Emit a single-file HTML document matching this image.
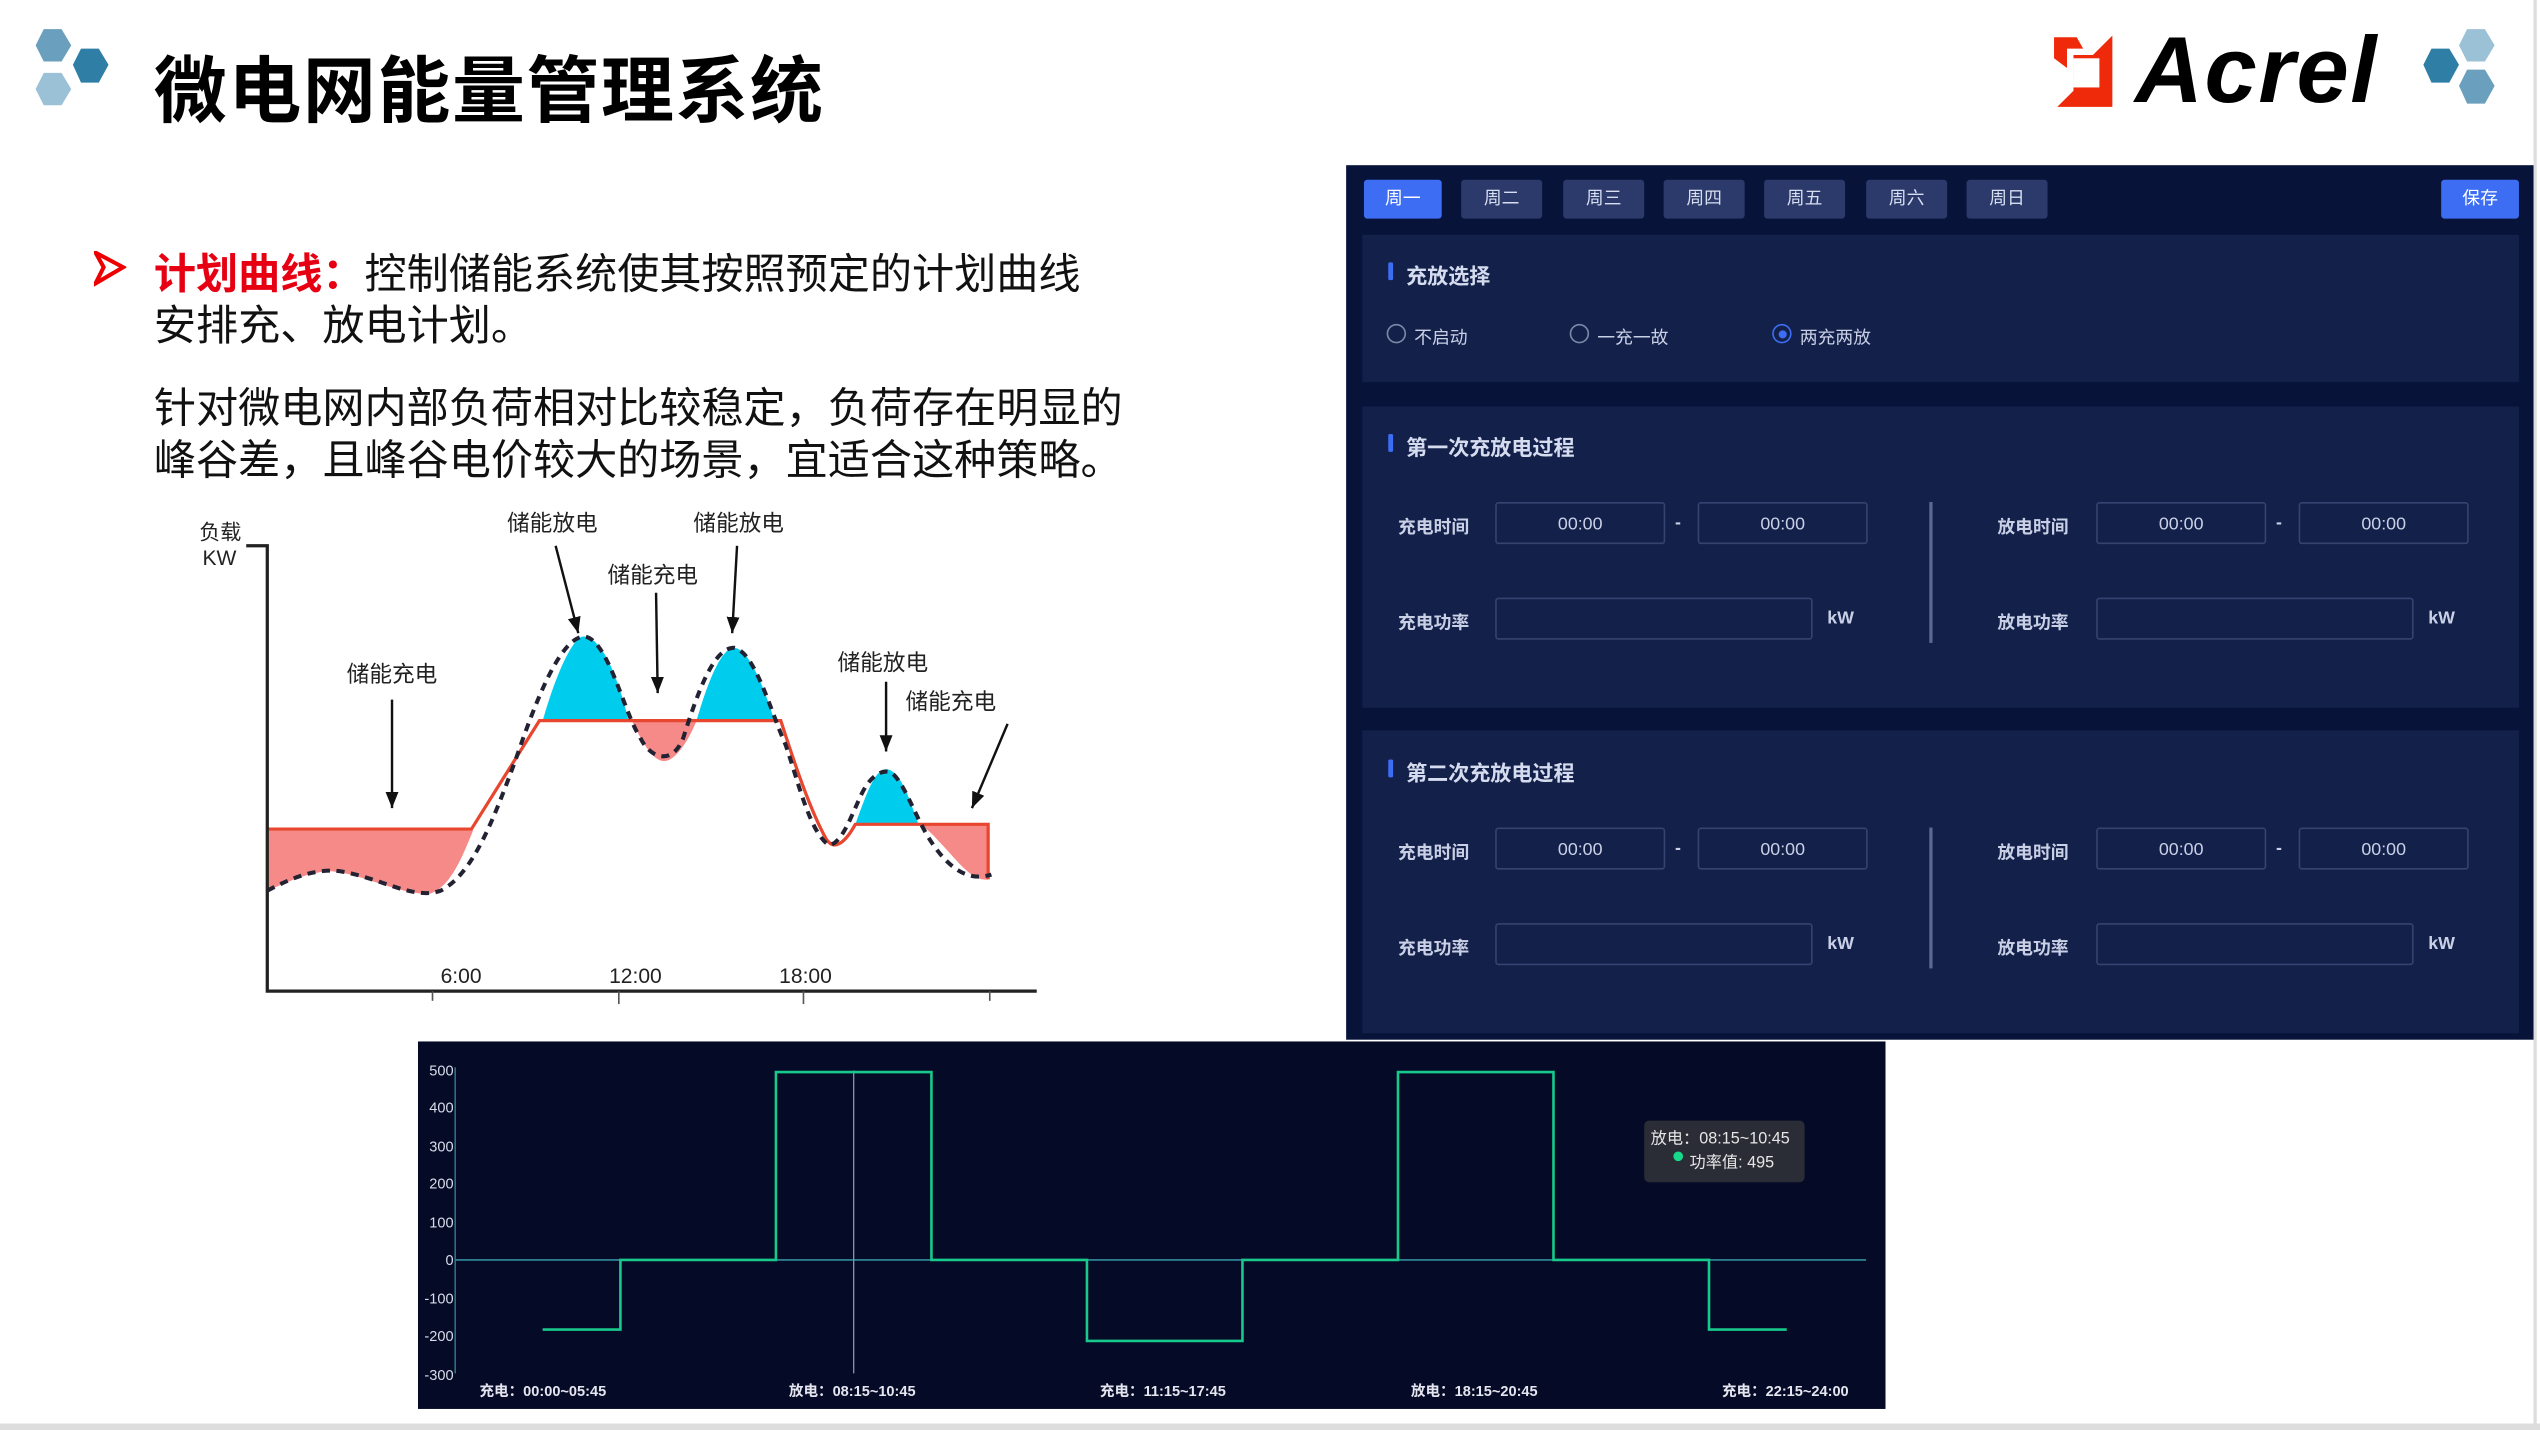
<!DOCTYPE html>
<html><head><meta charset="utf-8"><style>
html,body{margin:0;padding:0;width:2540px;height:1430px;overflow:hidden;background:#fff}
#s{position:absolute;left:0;top:0;width:1568px;height:883px;transform-origin:0 0;transform:scale(1.61990,1.61948);font-family:"Liberation Sans","Noto Sans CJK SC",sans-serif}
.a{position:absolute;white-space:nowrap}
.tab{position:absolute;top:111px;width:50px;height:24px;background:#2b3a6b;border-radius:2px;color:#d8def0;font-size:11px;line-height:25px;text-align:center}
.sec{position:absolute;left:841px;width:714px;background:#13204a}
.st{position:absolute;left:27px;color:#d6dcef;font-size:13px;font-weight:bold}
.st:before{content:"";position:absolute;left:-11px;top:2px;width:3px;height:11px;background:#3d6df2;border-radius:1px}
.lb{position:absolute;color:#c9d0e6;font-size:11px;font-weight:bold}
.in{position:absolute;height:26px;border:1px solid #34436f;border-radius:2px;color:#c9d0e6;font-size:11px;line-height:26px;text-align:center;box-sizing:border-box}
</style></head><body><div id="s">
<svg class="a" style="left:20px;top:16px" width="52" height="52" viewBox="0 0 52 52">
<polygon points="7,2 18,2 24,12 18,22 7,22 2,12" fill="#6a9fbd"/>
<polygon points="30,14 41,14 47,24 41,35 30,35 25,24" fill="#2f7ea6"/>
<polygon points="7,29 18,29 24,39 18,49 7,49 2,39" fill="#9bc1d6"/>
</svg>
<div class="a" style="left:95px;top:20px;font-size:45px;font-weight:bold;color:#000;letter-spacing:1px">微电网能量管理系统</div>
<svg class="a" style="left:1266px;top:20px" width="40" height="50" viewBox="0 0 40 50">
<polygon points="2,16 2,3 16,3 20,10 10,10 10,22" fill="#ee2a0a"/>
<polygon points="14,14 26,14 38,2 38,46 4,46 14,36" fill="#ee2a0a"/>
<rect x="14" y="16" width="16" height="18" fill="#fff"/>
</svg>
<div class="a" style="left:1318px;top:10px;font-size:58px;font-weight:bold;font-style:italic;color:#000;letter-spacing:1px">Acrel</div>
<svg class="a" style="left:1494px;top:16px" width="50" height="52" viewBox="0 0 50 52">
<polygon points="7,14 18,14 24,24 18,35 7,35 2,24" fill="#2f7ea6"/>
<polygon points="29,2 40,2 46,12 40,22 29,22 24,12" fill="#9bc1d6"/>
<polygon points="29,27 40,27 46,37 40,48 29,48 24,37" fill="#6a9fbd"/>
</svg>
<div class="a" style="left:1564px;top:0;width:2px;height:883px;background:#ddd"></div>
<div class="a" style="left:0;top:879px;width:1568px;height:4px;background:#ddd"></div>
<svg class="a" style="left:58px;top:155px" width="20" height="22"><polygon points="1,1 18,10 1,20 6,10" fill="none" stroke="#e00" stroke-width="2.5"/></svg>
<div class="a" style="left:95px;top:149px;font-size:26px;color:#111"><span style="color:#e60012;font-weight:bold">计划曲线：</span>控制储能系统使其按照预定的计划曲线</div>
<div class="a" style="left:95px;top:181px;font-size:26px;color:#111">安排充、放电计划。</div>
<div class="a" style="left:95px;top:232px;font-size:26px;color:#111">针对微电网内部负荷相对比较稳定，负荷存在明显的</div>
<div class="a" style="left:95px;top:264px;font-size:26px;color:#111">峰谷差，且峰谷电价较大的场景，宜适合这种策略。</div>
<svg class="a" style="left:0;top:0" width="830" height="640" viewBox="0 0 830 640" font-family="Liberation Sans,Noto Sans CJK SC,sans-serif">
<defs><marker id="ar" markerWidth="10" markerHeight="8" refX="10" refY="4" orient="auto" markerUnits="userSpaceOnUse"><polygon points="0,0 10,4 0,8" fill="#111"/></marker></defs>
<path d="M165,513 L292,513 C285,530 278,548 265,552 C245,552 225,540 205,538 C190,538 175,546 165,550Z" fill="#f58a88"/>
<path d="M335,445 C345,410 355,393 360,393 C372,393 382,420 388,445Z" fill="#00ccee"/>
<path d="M430,445 C440,410 448,400 453,400 C462,400 472,425 478,445Z" fill="#00ccee"/>
<path d="M390,445 L430,445 C424,460 416,470 410,470 C402,470 395,455 390,445Z" fill="#f58a88"/>
<path d="M528,509 C535,490 540,475 547,475 C556,475 562,495 567,509Z" fill="#00ccee"/>
<path d="M567,509 L610,509 L610,543 C600,545 590,530 580,520 C575,514 570,510 567,509Z" fill="#f58a88"/>
<path d="M165,512 L291,512 L333,445 L482,445 C490,470 500,500 510,518 C515,526 522,520 528,509 L610,509 L610,543" fill="none" stroke="#e8462e" stroke-width="2"/>
<path d="M165,550 C180,542 195,536 210,538 C235,542 255,556 272,550 C292,540 305,505 318,470 C330,435 345,395 360,393 C375,393 385,440 395,455 C402,470 416,472 422,455 C430,430 440,400 453,400 C466,402 476,440 485,460 C492,480 500,515 512,522 C520,520 525,505 532,490 C538,478 545,475 550,477 C558,482 565,505 575,520 C585,535 597,545 612,540" fill="none" stroke="#223" stroke-width="2.5" stroke-dasharray="5,4"/>
<path d="M152,337 L165,337 L165,612 L640,612" fill="none" stroke="#222" stroke-width="2"/>
<g stroke="#555" stroke-width="1"><line x1="267" y1="612" x2="267" y2="618"/><line x1="382" y1="612" x2="382" y2="620"/><line x1="496" y1="612" x2="496" y2="620"/><line x1="611" y1="612" x2="611" y2="618"/></g>
<g font-size="13" fill="#222"><text x="123" y="333">负载</text><text x="125" y="349">KW</text>
<text x="272" y="607">6:00</text><text x="376" y="607">12:00</text><text x="481" y="607">18:00</text></g>
<g font-size="14" fill="#222">
<text x="313" y="328">储能放电</text><text x="428" y="328">储能放电</text><text x="375" y="360">储能充电</text>
<text x="214" y="421">储能充电</text><text x="517" y="414">储能放电</text><text x="559" y="438">储能充电</text></g>
<g stroke="#111" stroke-width="1.5" marker-end="url(#ar)"><line x1="343" y1="337" x2="357" y2="391"/><line x1="405" y1="366" x2="406" y2="428"/><line x1="455" y1="337" x2="452" y2="391"/><line x1="242" y1="432" x2="242" y2="499"/><line x1="547" y1="421" x2="547" y2="464"/><line x1="622" y1="447" x2="600" y2="499"/></g>
</svg>
<div class="a" style="left:831px;top:102px;width:733px;height:540px;background:#08133a"></div>
<div class="tab" style="left:842px;width:48px;background:#3d6df2;color:#fff">周一</div>
<div class="tab" style="left:902px">周二</div><div class="tab" style="left:965px">周三</div><div class="tab" style="left:1027px">周四</div>
<div class="tab" style="left:1089px">周五</div><div class="tab" style="left:1152px">周六</div><div class="tab" style="left:1214px">周日</div>
<div class="tab" style="left:1507px;width:48px;background:#3d6df2;color:#fff">保存</div>
<div class="sec" style="top:145px;height:91px">
<div class="st" style="top:15px">充放选择</div>
<div class="a" style="left:15px;top:55px;width:10px;height:10px;border:1px solid #7d88a8;border-radius:50%"></div><div class="lb" style="left:32px;top:55px;font-weight:normal">不启动</div>
<div class="a" style="left:128px;top:55px;width:10px;height:10px;border:1px solid #7d88a8;border-radius:50%"></div><div class="lb" style="left:145px;top:55px;font-weight:normal">一充一故</div>
<div class="a" style="left:253px;top:55px;width:10px;height:10px;border:1px solid #3d6df2;border-radius:50%;box-sizing:content-box"><div style="margin:2.5px;width:5px;height:5px;border-radius:50%;background:#3d6df2"></div></div><div class="lb" style="left:270px;top:55px;font-weight:normal">两充两放</div>
</div>
<div class="sec" style="top:251px;height:186px">
<div class="st" style="top:15px">第一次充放电过程</div>
<div class="lb" style="left:22px;top:66px">充电时间</div><div class="in" style="left:82px;top:59px;width:105px">00:00</div><div class="lb" style="left:193px;top:66px">-</div><div class="in" style="left:207px;top:59px;width:105px">00:00</div>
<div class="a" style="left:350px;top:59px;width:2px;height:87px;background:#5d6a90"></div>
<div class="lb" style="left:392px;top:66px">放电时间</div><div class="in" style="left:453px;top:59px;width:105px">00:00</div><div class="lb" style="left:564px;top:66px">-</div><div class="in" style="left:578px;top:59px;width:105px">00:00</div>
<div class="lb" style="left:22px;top:125px">充电功率</div><div class="in" style="left:82px;top:118px;width:196px"></div><div class="lb" style="left:287px;top:125px">kW</div>
<div class="lb" style="left:392px;top:125px">放电功率</div><div class="in" style="left:453px;top:118px;width:196px"></div><div class="lb" style="left:658px;top:125px">kW</div>
</div>
<div class="sec" style="top:451px;height:187px">
<div class="st" style="top:16px">第二次充放电过程</div>
<div class="lb" style="left:22px;top:67px">充电时间</div><div class="in" style="left:82px;top:60px;width:105px">00:00</div><div class="lb" style="left:193px;top:67px">-</div><div class="in" style="left:207px;top:60px;width:105px">00:00</div>
<div class="a" style="left:350px;top:60px;width:2px;height:87px;background:#5d6a90"></div>
<div class="lb" style="left:392px;top:67px">放电时间</div><div class="in" style="left:453px;top:60px;width:105px">00:00</div><div class="lb" style="left:564px;top:67px">-</div><div class="in" style="left:578px;top:60px;width:105px">00:00</div>
<div class="lb" style="left:22px;top:126px">充电功率</div><div class="in" style="left:82px;top:119px;width:196px"></div><div class="lb" style="left:287px;top:126px">kW</div>
<div class="lb" style="left:392px;top:126px">放电功率</div><div class="in" style="left:453px;top:119px;width:196px"></div><div class="lb" style="left:658px;top:126px">kW</div>
</div>
<svg class="a" style="left:258px;top:643px" width="906" height="227" viewBox="258 643 906 227" font-family="Liberation Sans,Noto Sans CJK SC,sans-serif">
<rect x="258" y="643" width="906" height="227" fill="#050b26"/>
<line x1="281" y1="659" x2="281" y2="848" stroke="#2b6f80" stroke-width="1"/>
<line x1="281" y1="778" x2="1152" y2="778" stroke="#2e7d8f" stroke-width="1.2"/>
<g fill="#d8dcea" font-size="9" text-anchor="end">
<text x="280" y="664">500</text><text x="280" y="687">400</text><text x="280" y="711">300</text><text x="280" y="734">200</text><text x="280" y="758">100</text><text x="280" y="781">0</text><text x="280" y="805">-100</text><text x="280" y="828">-200</text><text x="280" y="852">-300</text></g>
<line x1="527" y1="661" x2="527" y2="848" stroke="#8a93b8" stroke-width="0.8"/>
<path d="M335,821 L383,821 L383,778 L479,778 L479,662 L575,662 L575,778 L671,778 L671,828 L767,828 L767,778 L863,778 L863,662 L959,662 L959,778 L1055,778 L1055,821 L1103,821" fill="none" stroke="#17c98a" stroke-width="1.6"/>
<rect x="1015" y="692" width="99" height="38" rx="3" fill="#2a2d36"/>
<text x="1019" y="706" fill="#e6e6e6" font-size="10">放电：08:15~10:45</text>
<circle cx="1036" cy="714" r="3" fill="#17d98a"/>
<text x="1043" y="721" fill="#e6e6e6" font-size="10">功率值: 495</text>
<g fill="#e6e6f0" font-size="9" font-weight="bold"><text x="296" y="862">充电：00:00~05:45</text><text x="487" y="862">放电：08:15~10:45</text><text x="679" y="862">充电：11:15~17:45</text><text x="871" y="862">放电：18:15~20:45</text><text x="1063" y="862">充电：22:15~24:00</text></g>
</svg>
</div></body></html>
